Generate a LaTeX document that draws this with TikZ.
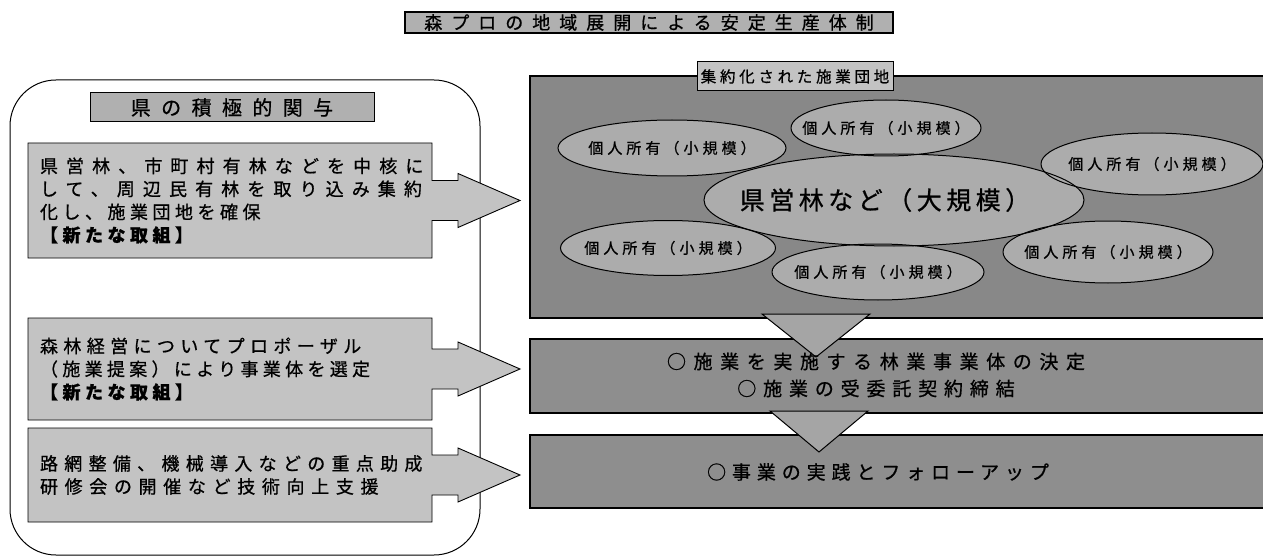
\documentclass[tikz,border=0pt]{standalone}
\usepackage{fontspec}
\newfontfamily\jp[FakeBold=0.8]{Noto Sans CJK JP}
\usetikzlibrary{calc}
\pgfdeclarelayer{back}
\pgfdeclarelayer{fills}
\pgfsetlayers{back,fills,main}
\definecolor{titlefill}{RGB}{176,176,176}
\definecolor{lboxfill}{RGB}{195,195,195}
\definecolor{areafill}{RGB}{136,136,136}
\definecolor{ellfill}{RGB}{172,172,172}
\definecolor{rboxfill}{RGB}{142,142,142}
\definecolor{trifill}{RGB}{165,165,165}
\definecolor{labelfill}{RGB}{195,195,195}
\newcommand\ls[1]{\addfontfeature{LetterSpace=#1}}
\newcommand\arrowout[1]{%
  \filldraw[abox] (#1.north west) -- (#1.north east) -- ($(#1.east)+(0,-20)$) -- ($(#1.east)+(26,-20)$)
  -- ($(#1.east)+(26,-27)$) -- ($(#1.east)+(88,0)$) -- ($(#1.east)+(26,27)$) -- ($(#1.east)+(26,20)$)
  -- ($(#1.east)+(0,20)$) -- (#1.south east) -- (#1.south west) -- cycle;}
\begin{document}
\begin{tikzpicture}[x=1pt,y=-1pt,
  every node/.style={inner sep=0pt,outer sep=0pt},
  titlebox/.style={draw=black,line width=1.2pt,fill=titlefill},
  titletext/.style={font=\jp\fontsize{18}{20}\selectfont},
  panel/.style={draw=black,line width=1pt,rounded corners=46pt,fill=white},
  ptitle/.style={draw=black,line width=1pt,fill=titlefill,font=\jp\fontsize{20}{22}\selectfont},
  lbox/.style={minimum width=404,text width=380,inner xsep=12pt,align=left,font=\jp\fontsize{18}{23}\selectfont},
  abox/.style={draw=black,line width=0.9pt,fill=lboxfill},
  area/.style={draw=black,line width=1.4pt,fill=areafill},
  labelbox/.style={draw=black,line width=1pt,fill=labelfill,font=\jp\fontsize{15.5}{17}\selectfont},
  ell/.style={draw=black,line width=1pt},
  elltext/.style={font=\jp\fontsize{15}{17}\selectfont},
  rbox/.style={draw=black,line width=1.4pt,fill=rboxfill},
  rtext/.style={align=center,font=\jp\fontsize{19}{27}\selectfont},
  tri/.style={draw=black,line width=1pt,fill=trifill,line join=miter}]
\useasboundingbox (0,0) rectangle (1263,556);
\begin{pgfonlayer}{back}
\fill[white] (0,0) rectangle (1263,556);
\end{pgfonlayer}

% left panel
\begin{pgfonlayer}{back}
\node[panel,minimum width=470,minimum height=475] (panel) at (245,317.5) {};
\end{pgfonlayer}
\node[ptitle,minimum width=284,minimum height=29] (ptitle) at (232,107.5) {\ls{52}県の積極的関与};

\node[lbox,minimum height=115] (b1) at (230,200.5)
  {{\ls{45}県営林、市町村有林などを中核に}\\{\ls{45}して、周辺民有林を取り込み集約}\\{\ls{25}化し、施業団地を確保}\\{\bfseries\ls{25}【新たな取組】}};
\node[lbox,minimum height=102] (b2) at (230,369)
  {{\ls{30}森林経営についてプロポーザル}\\{\ls{24}（施業提案）により事業体を選定}\\{\bfseries\ls{25}【新たな取組】}};
\node[lbox,minimum height=94] (b3) at (230,475)
  {{\ls{35}路網整備、機械導入などの重点助成}\\{\ls{37}研修会の開催など技術向上支援}};
\begin{pgfonlayer}{fills}
\arrowout{b1}
\arrowout{b2}
\arrowout{b3}
\end{pgfonlayer}

% right: consolidated area
\begin{pgfonlayer}{back}
\node[area,anchor=north west,minimum width=745,minimum height=242] (area) at (530,76) {};
\end{pgfonlayer}
\def\elist{e1/672/148/228/56,e2/886/128/190/56,e3/1152/164/222/62,e5/668/248/215/55,e6/878/272/212/56,e7/1108/252/210/62}
\begin{pgfonlayer}{fills}
\foreach \n/\x/\y/\w/\h in \elist {\fill[ellfill] (\x,\y) ellipse ({\w/2} and {\h/2});}
\fill[ellfill] (894,200) ellipse (190 and 46);
\end{pgfonlayer}
\foreach \n/\x/\y/\w/\h in \elist {
  \draw[ell] (\x,\y) ellipse ({\w/2} and {\h/2});
  \node[elltext] (\n) at (\x,\y) {\ls{27}個人所有（小規模）};
}
\draw[ell] (894,200) ellipse (190 and 46);
\node[font=\jp\fontsize{25}{27}\selectfont] (e4) at (885,200) {\ls{18}県営林など（大規模）};
\node[labelbox,minimum width=196,minimum height=29] (alabel) at (795,76.5) {\ls{24}集約化された施業団地};

% steps
\node[rbox,anchor=north west,minimum width=745,minimum height=74] (mid) at (530,339) {};
\node[rbox,anchor=north west,minimum width=745,minimum height=73] (fin) at (530,435) {};
\filldraw[tri] (762,314) -- (870,314) -- (816,357) -- cycle;
\filldraw[tri] (770,411) -- (868,411) -- (819,452) -- cycle;
\node[rtext] (midtext) at (876,375) {{\ls{40}○施業を実施する林業事業体の決定}\\{\ls{36}○施業の受委託契約締結}};
\node[rtext] (fintext) at (878,472) {\ls{31}○事業の実践とフォローアップ};

% title
\draw[titlebox] (405,12) rectangle (893,33);
\node[titletext] (title) at (649,22.5) {\ls{50}森プロの地域展開による安定生産体制};
\end{tikzpicture}
\end{document}
